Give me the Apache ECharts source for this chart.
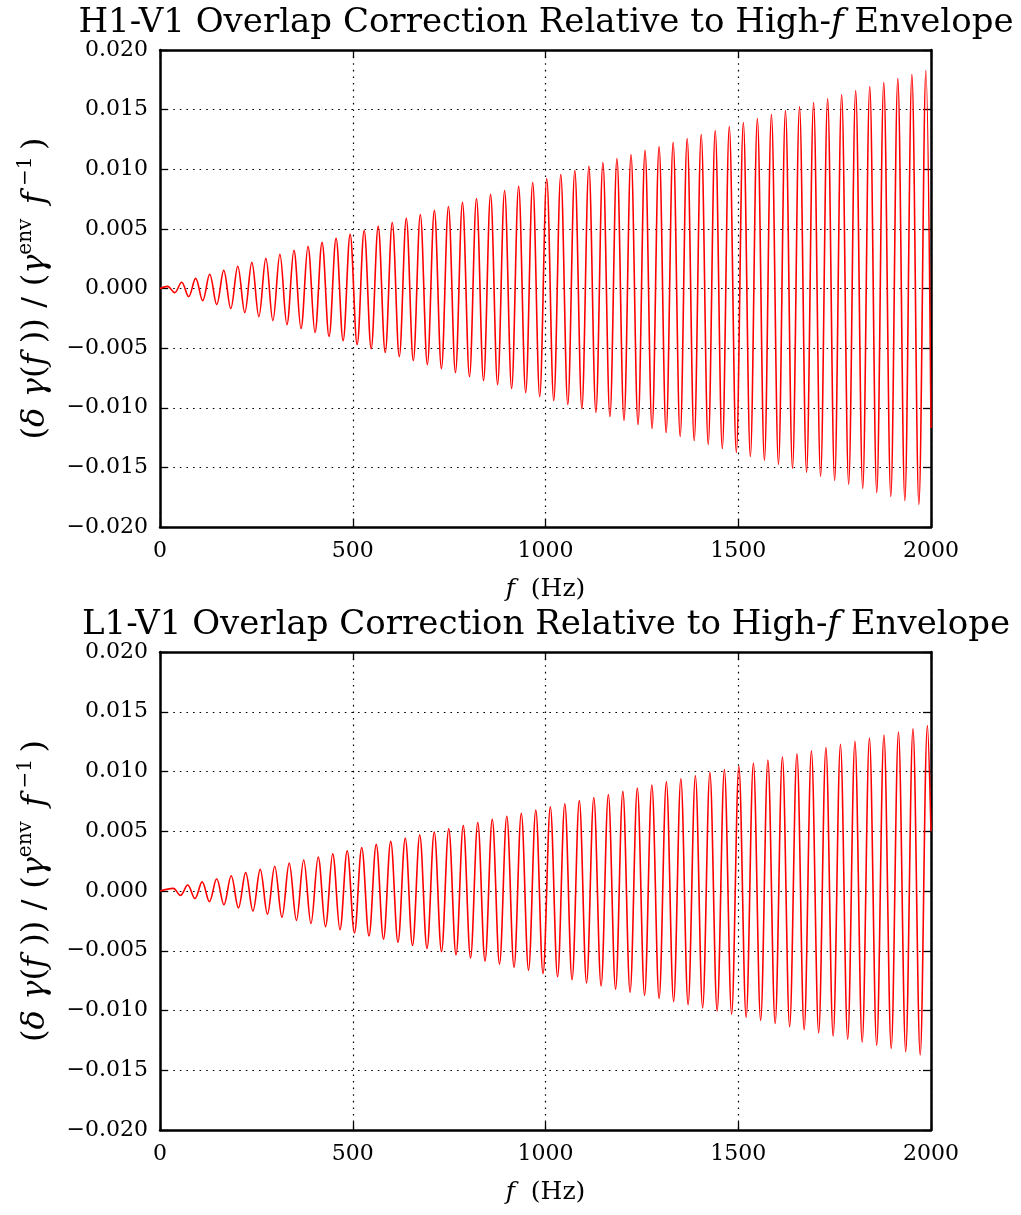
<!DOCTYPE html>
<html><head><meta charset="utf-8">
<script src="https://cdn.jsdelivr.net/npm/echarts@6/dist/echarts.min.js"></script>
<style>html,body{margin:0;padding:0;background:#fff}#c{width:1021px;height:1215px}</style>
</head><body><div id="c"></div>
<script>
// ---------- DATA ----------
const titles = ['H1-V1 Overlap Correction Relative to High-', 'L1-V1 Overlap Correction Relative to High-'];
const xTicks = [0, 500, 1000, 1500, 2000];
const yTicks = [-0.020, -0.015, -0.010, -0.005, 0.000, 0.005, 0.010, 0.015, 0.020];

// H1-V1: local maxima / minima (frequency in Hz, value)
const h1PeakFreq = [19.6, 56.0, 92.4, 128.9, 165.3, 201.7, 238.2, 274.6, 311.0, 347.4, 383.9, 420.3, 456.7, 493.2, 529.6, 566.0, 602.5, 638.9, 675.3, 711.7, 748.2, 784.6, 821.0, 857.5, 893.9, 930.3, 966.8, 1003.2, 1039.6, 1076.0, 1112.5, 1148.9, 1185.3, 1221.8, 1258.2, 1294.6, 1331.1, 1367.5, 1403.9, 1440.3, 1476.8, 1513.2, 1549.6, 1586.1, 1622.5, 1658.9, 1695.4, 1731.8, 1768.2, 1804.6, 1841.1, 1877.5, 1913.9, 1950.4, 1986.8];
const h1PeakVal = [0.00018, 0.00052, 0.00085, 0.00119, 0.00152, 0.00186, 0.00219, 0.00253, 0.00286, 0.00320, 0.00353, 0.00387, 0.00420, 0.00454, 0.00487, 0.00521, 0.00554, 0.00588, 0.00621, 0.00655, 0.00688, 0.00722, 0.00755, 0.00789, 0.00822, 0.00856, 0.00889, 0.00923, 0.00956, 0.00990, 0.01024, 0.01057, 0.01090, 0.01124, 0.01158, 0.01191, 0.01225, 0.01258, 0.01292, 0.01325, 0.01359, 0.01392, 0.01426, 0.01459, 0.01493, 0.01526, 0.01560, 0.01593, 0.01627, 0.01660, 0.01694, 0.01727, 0.01761, 0.01794, 0.01828];
const h1TroughFreq = [37.8, 74.2, 110.6, 147.1, 183.5, 219.9, 256.4, 292.8, 329.2, 365.7, 402.1, 438.5, 475.0, 511.4, 547.8, 584.2, 620.7, 657.1, 693.5, 730.0, 766.4, 802.8, 839.3, 875.7, 912.1, 948.6, 985.0, 1021.4, 1057.8, 1094.3, 1130.7, 1167.1, 1203.6, 1240.0, 1276.4, 1312.9, 1349.3, 1385.7, 1422.1, 1458.6, 1495.0, 1531.4, 1567.9, 1604.3, 1640.7, 1677.2, 1713.6, 1750.0, 1786.4, 1822.9, 1859.3, 1895.7, 1932.2, 1968.6];
const h1TroughVal = [-0.00035, -0.00068, -0.00102, -0.00135, -0.00169, -0.00202, -0.00236, -0.00269, -0.00303, -0.00336, -0.00370, -0.00403, -0.00437, -0.00470, -0.00504, -0.00537, -0.00571, -0.00605, -0.00638, -0.00672, -0.00705, -0.00739, -0.00772, -0.00806, -0.00839, -0.00873, -0.00906, -0.00940, -0.00973, -0.01007, -0.01040, -0.01074, -0.01107, -0.01141, -0.01174, -0.01208, -0.01241, -0.01275, -0.01308, -0.01342, -0.01375, -0.01409, -0.01442, -0.01476, -0.01509, -0.01543, -0.01576, -0.01610, -0.01643, -0.01677, -0.01711, -0.01744, -0.01778, -0.01811];
const h1EndFreq = [0, 2000];
const h1EndVal = [0, -0.0117];

// L1-V1: local maxima / minima
const l1PeakFreq = [34.1, 71.7, 109.3, 147.0, 184.6, 222.2, 259.9, 297.5, 335.1, 372.7, 410.4, 448.0, 485.6, 523.3, 560.9, 598.5, 636.2, 673.8, 711.4, 749.0, 786.7, 824.3, 861.9, 899.6, 937.2, 974.8, 1012.5, 1050.1, 1087.7, 1125.3, 1163.0, 1200.6, 1238.2, 1275.9, 1313.5, 1351.1, 1388.8, 1426.4, 1464.0, 1501.6, 1539.3, 1576.9, 1614.5, 1652.2, 1689.8, 1727.4, 1765.1, 1802.7, 1840.3, 1877.9, 1915.6, 1953.2, 1990.8];
const l1PeakVal = [0.00022, 0.00050, 0.00076, 0.00102, 0.00128, 0.00154, 0.00181, 0.00207, 0.00233, 0.00259, 0.00285, 0.00311, 0.00337, 0.00364, 0.00390, 0.00416, 0.00442, 0.00468, 0.00494, 0.00521, 0.00547, 0.00573, 0.00599, 0.00625, 0.00651, 0.00677, 0.00704, 0.00730, 0.00756, 0.00782, 0.00808, 0.00834, 0.00861, 0.00887, 0.00913, 0.00939, 0.00965, 0.00991, 0.01017, 0.01044, 0.01070, 0.01096, 0.01122, 0.01148, 0.01174, 0.01201, 0.01227, 0.01253, 0.01279, 0.01305, 0.01331, 0.01357, 0.01384];
const l1TroughFreq = [52.9, 90.5, 128.1, 165.8, 203.4, 241.0, 278.7, 316.3, 353.9, 391.6, 429.2, 466.8, 504.4, 542.1, 579.7, 617.3, 655.0, 692.6, 730.2, 767.9, 805.5, 843.1, 880.7, 918.4, 956.0, 993.6, 1031.3, 1068.9, 1106.5, 1144.2, 1181.8, 1219.4, 1257.0, 1294.7, 1332.3, 1369.9, 1407.6, 1445.2, 1482.8, 1520.5, 1558.1, 1595.7, 1633.3, 1671.0, 1708.6, 1746.2, 1783.9, 1821.5, 1859.1, 1896.8, 1934.4, 1972.0];
const l1TroughVal = [-0.00037, -0.00063, -0.00089, -0.00115, -0.00141, -0.00167, -0.00194, -0.00220, -0.00246, -0.00272, -0.00298, -0.00324, -0.00351, -0.00377, -0.00403, -0.00429, -0.00455, -0.00481, -0.00507, -0.00534, -0.00560, -0.00586, -0.00612, -0.00638, -0.00664, -0.00691, -0.00717, -0.00743, -0.00769, -0.00795, -0.00821, -0.00847, -0.00874, -0.00900, -0.00926, -0.00952, -0.00978, -0.01004, -0.01031, -0.01057, -0.01083, -0.01109, -0.01135, -0.01161, -0.01187, -0.01214, -0.01240, -0.01266, -0.01292, -0.01318, -0.01344, -0.01371];
const l1EndFreq = [0, 2000];
const l1EndVal = [0, 0.005];

// ---------- BUILD ----------
function merge(groups) {
  const pts = [];
  groups.forEach(([fs, vs]) => fs.forEach((f, i) => pts.push([f, vs[i]])));
  pts.sort((a, b) => a[0] - b[0]);
  return pts;
}
const h1Data = merge([[h1EndFreq, h1EndVal], [h1PeakFreq, h1PeakVal], [h1TroughFreq, h1TroughVal]]);
const l1Data = merge([[l1EndFreq, l1EndVal], [l1PeakFreq, l1PeakVal], [l1TroughFreq, l1TroughVal]]);

const FONT = 'DejaVu Serif';
const fmtY = v => (v < -1e-12 ? '\u2212' : '') + Math.abs(v).toFixed(3);
const gridLine = { show: true, lineStyle: { color: '#000', width: 1.2, type: [1.6, 5] } };
const frameLine = { show: true, onZero: false, lineStyle: { color: '#000', width: 2.5 } };
const tick = { show: true, inside: true, length: 8, lineStyle: { color: '#000', width: 1.3 } };

const grids = [
  { left: 160, top: 50, width: 771, height: 477 },
  { left: 160, top: 652, width: 771, height: 478 }
];
const xAxes = [], yAxes = [], series = [], titleArr = [];
const datasets = [h1Data, l1Data];
const YF = 32, YS = 20;
const yRich = {
  n: { fontFamily: FONT, fontSize: YF, color: '#000', lineHeight: 40 },
  i: { fontFamily: FONT, fontSize: YF, fontStyle: 'italic', color: '#000', lineHeight: 40 },
  s: { fontFamily: FONT, fontSize: YS, color: '#000', verticalAlign: 'top', lineHeight: 20 }
};
const T = '\u2009', E = '\u2004';
const yName = '{n|(}{i|δ' + E + 'γ}{n|(}{i|f' + E + '}{n|))' + E + '/' + E + '(}{i|γ}{s|env' + T + '}{i|' + E + 'f' + T + '}{s|−1}{n|' + T + ')}';
const xRich = {
  n: { fontFamily: FONT, fontSize: 25, color: '#000' },
  i: { fontFamily: FONT, fontSize: 25, fontStyle: 'italic', color: '#000' }
};

grids.forEach((g, k) => {
  xAxes.push({
    gridIndex: k, type: 'value', min: 0, max: 2000, interval: 500, position: 'bottom',
    axisLine: frameLine, axisTick: tick, splitLine: gridLine,
    axisLabel: { show: true, margin: 13, fontFamily: FONT, fontSize: 22, color: '#000',
      customValues: xTicks, formatter: v => String(v) },
    name: '{i|f}{n|  (Hz)}', nameLocation: 'middle', nameGap: 50,
    nameTextStyle: { rich: xRich }
  });
  xAxes.push({
    gridIndex: k, type: 'value', min: 0, max: 2000, interval: 500, position: 'top',
    axisLine: frameLine, axisTick: tick, splitLine: { show: false }, axisLabel: { show: false }
  });
  yAxes.push({
    gridIndex: k, type: 'value', min: -0.02, max: 0.02, interval: 0.005, position: 'left',
    axisLine: frameLine, axisTick: tick, splitLine: gridLine,
    axisLabel: { show: true, margin: 12, fontFamily: FONT, fontSize: 22, color: '#000', formatter: fmtY },
    name: yName, nameLocation: 'middle', nameRotate: 90, nameGap: 104,
    nameTextStyle: { rich: yRich }
  });
  yAxes.push({
    gridIndex: k, type: 'value', min: -0.02, max: 0.02, interval: 0.005, position: 'right',
    axisLine: frameLine, axisTick: tick, splitLine: { show: false }, axisLabel: { show: false }
  });
  series.push({
    type: 'line', xAxisIndex: 2 * k, yAxisIndex: 2 * k, data: datasets[k],
    smooth: 0.36, showSymbol: false, symbol: 'none', clip: true,
    lineStyle: { color: '#ff0000', width: 1.6 }, animation: false
  });
  titleArr.push({
    text: titles[k] + '{i|f} Envelope',
    left: 541, textAlign: 'center', top: k === 0 ? 1 : 603,
    textStyle: { fontFamily: FONT, fontSize: 34, fontWeight: 'normal', color: '#000',
      rich: { i: { fontFamily: FONT, fontSize: 34, fontStyle: 'italic', color: '#000' } } }
  });
});

const chart = echarts.init(document.getElementById('c'), null, { renderer: 'canvas' });
chart.setOption({
  animation: false,
  backgroundColor: '#fff',
  title: titleArr,
  grid: grids,
  xAxis: xAxes,
  yAxis: yAxes,
  series: series
});
</script></body></html>
